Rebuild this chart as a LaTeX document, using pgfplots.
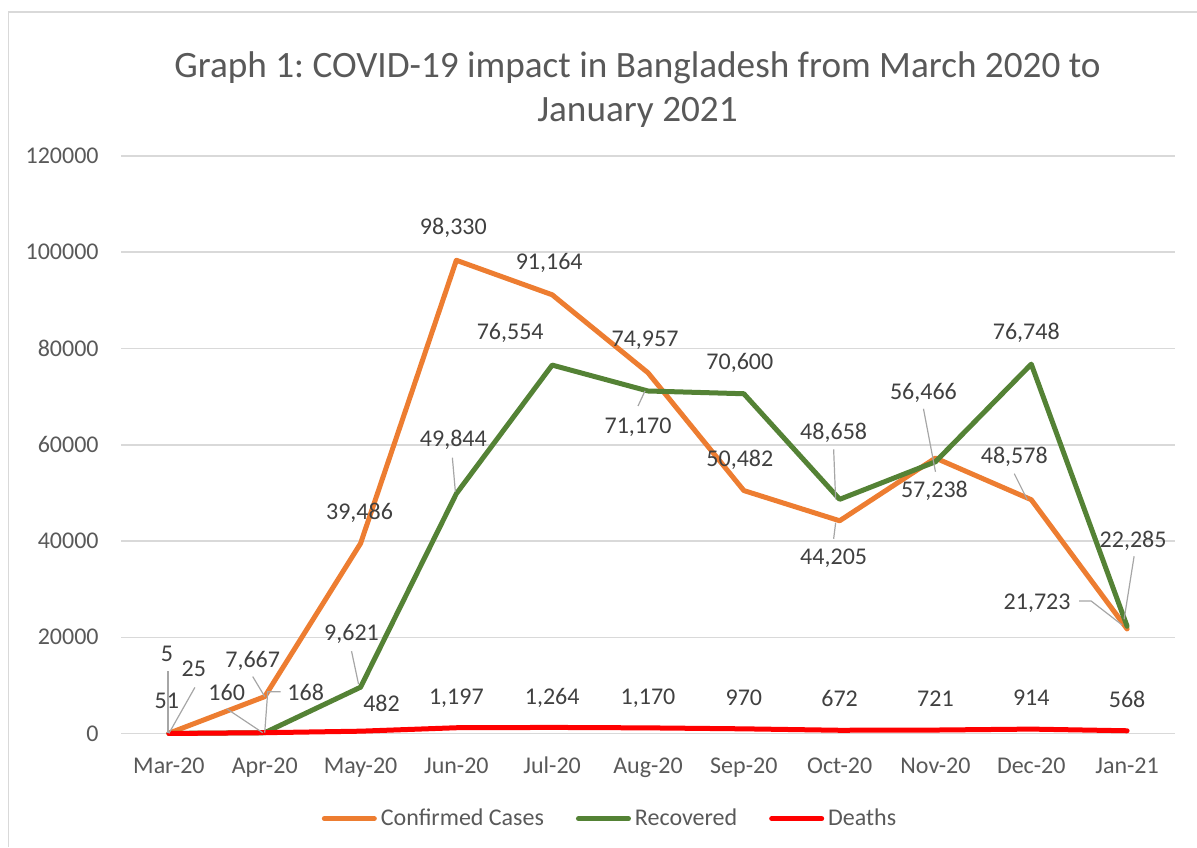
\documentclass[border=0pt]{standalone}
\usepackage{fontspec}
\setmainfont{Carlito}
\usepackage{pgfplots}
\pgfplotsset{compat=1.18}
\usetikzlibrary{calc}
\definecolor{conf}{HTML}{ED7D31}
\definecolor{reco}{HTML}{548235}
\definecolor{dead}{HTML}{FF0000}
\definecolor{gridc}{HTML}{D9D9D9}
\definecolor{labc}{HTML}{404040}
\definecolor{tickc}{HTML}{595959}
\definecolor{leadc}{HTML}{A6A6A6}
\frenchspacing
\tikzset{
  dlab/.style={font=\fontsize{12}{14}\selectfont, text=labc, inner sep=0pt, text height=7.6pt, text depth=0pt, anchor=center},
  leader/.style={leadc, line width=0.6pt},
}
\newcommand{\dl}[5]{\node[dlab] at ($(axis cs:#1,#2)+(#3pt,#4pt)$) {#5};}
\newcommand{\ld}[6]{\draw[leader] ($(axis cs:#1,#2)+(#3pt,#4pt)$) -- ($(axis cs:#1,#2)+(#5pt,#6pt)$);}
\newcommand{\ldd}[8]{\draw[leader] ($(axis cs:#1,#2)+(#3pt,#4pt)$) -- ($(axis cs:#1,#2)+(#5pt,#6pt)$) -- ($(axis cs:#1,#2)+(#7pt,#8pt)$);}
\begin{document}
\begin{tikzpicture}
\useasboundingbox (0,0) rectangle (598.5pt,423.5pt);
\draw[gridc, line width=0.75pt] (4.25pt,0) -- (4.25pt,417.5pt) -- (598.5pt,417.5pt);
\begin{axis}[
  at={(60.5pt,56.75pt)}, anchor=south west,
  scale only axis, width=527pt, height=288.75pt,
  xmin=-0.5, xmax=10.5, ymin=0, ymax=120000,
  xtick={0,...,10},
  xticklabels={Mar-20,Apr-20,May-20,Jun-20,Jul-20,Aug-20,Sep-20,Oct-20,Nov-20,Dec-20,Jan-21},
  ytick={0,20000,40000,60000,80000,100000,120000},
  yticklabels={0,20000,40000,60000,80000,100000,120000},
  scaled y ticks=false,
  ymajorgrids, grid style={gridc, line width=0.75pt},
  axis line style={draw=none}, tick style={draw=none},
  tick label style={font=\fontsize{12}{14}\selectfont, text=tickc},
  xticklabel style={anchor=base, yshift=-19.75pt, inner sep=0pt},
  yticklabel style={anchor=east, xshift=-11pt, inner sep=0pt},
  clip=false,
  legend columns=3,
  legend style={draw=none, fill=none, at={(0.4649,-0.1475)}, anchor=center,
    font=\fontsize{12}{14}\selectfont, text=tickc,
    /tikz/every even column/.append style={column sep=14pt}},
  legend image code/.code={\draw[#1, line cap=round] (1pt,0pt) -- (26pt,0pt);},
  every axis plot/.append style={line width=2.5pt, line join=round, line cap=round, mark=none},
]
\addplot[conf] coordinates {(0,51) (1,7667) (2,39486) (3,98330) (4,91164) (5,74957) (6,50482) (7,44205) (8,57238) (9,48578) (10,21723)};
\addlegendentry{Confirmed Cases}
\addplot[reco] coordinates {(0,25) (1,160) (2,9621) (3,49844) (4,76554) (5,71170) (6,70600) (7,48658) (8,56466) (9,76748) (10,22285)};
\addlegendentry{Recovered}
\addplot[dead] coordinates {(0,5) (1,168) (2,482) (3,1197) (4,1264) (5,1170) (6,970) (7,672) (8,721) (9,914) (10,568)};
\addlegendentry{Deaths}
% Confirmed labels
\dl{0}{51}{-1}{16}{51}
\dl{1}{7667}{-6}{18.5}{7,667} \ld{1}{7667}{-6}{10}{0}{0}
\dl{2}{39486}{-0.5}{16}{39,486}
\dl{3}{98330}{-1.5}{16.5}{98,330}
\dl{4}{91164}{-1.5}{16.5}{91,164}
\dl{5}{74957}{-1.5}{17}{74,957}
\dl{6}{50482}{-2}{16}{50,482}
\dl{7}{44205}{-3}{-18}{44,205} \ld{7}{44205}{-3}{-9}{-2}{-1}
\dl{8}{57238}{-0.5}{-16}{57,238}
\dl{9}{48578}{-8.5}{22}{48,578} \ld{9}{48578}{-8.5}{13}{-2}{0}
\dl{10}{21723}{-45}{13.5}{21,723} \ldd{10}{21723}{-24}{14}{-18}{14}{-2.5}{2}
% Recovered labels
\dl{0}{25}{12.5}{32}{25} \ld{0}{25}{13}{23}{0}{0}
\dl{1}{160}{-19}{20}{160} \ld{1}{160}{-19}{12}{-1}{0}
\dl{2}{9621}{-4.5}{27}{9,621} \ld{2}{9621}{-4.5}{18}{-1}{1.5}
\dl{3}{49844}{-1.5}{27.5}{49,844} \ld{3}{49844}{-2}{18}{-0.5}{1}
\dl{4}{76554}{-21}{16.5}{76,554}
\dl{5}{71170}{-5}{-17.5}{71,170} \ld{5}{71170}{-5}{-7.5}{-1.5}{0}
\dl{6}{70600}{-2}{16}{70,600}
\dl{7}{48658}{-3}{33.5}{48,658} \ld{7}{48658}{-3}{25}{-2}{0}
\dl{8}{56466}{-6}{35}{56,466} \ld{8}{56466}{-6}{26.5}{0}{-5}
\dl{9}{76748}{-2.5}{16}{76,748}
\dl{10}{22285}{3}{43}{22,285} \ld{10}{22285}{3.5}{35}{-1.5}{3.5}
% Deaths labels
\dl{0}{5}{-1}{40}{5} \ld{0}{5}{-0.5}{31}{-0.5}{0}
\dl{1}{168}{20.5}{20}{168} \ldd{1}{168}{8}{20.5}{1.5}{20.5}{0}{0}
\dl{2}{482}{10.5}{13.5}{482}
\dl{3}{1197}{0}{15.5}{1,197}
\dl{4}{1264}{0}{15.5}{1,264}
\dl{5}{1170}{0}{15.5}{1,170}
\dl{6}{970}{0}{15.5}{970}
\dl{7}{672}{0}{15.5}{672}
\dl{8}{721}{0}{15.5}{721}
\dl{9}{914}{0}{15.5}{914}
\dl{10}{568}{0}{15.5}{568}
\end{axis}
\node[font=\fontsize{18.6}{22}\selectfont, text=tickc, align=center] at (318.75pt,378.5pt) {Graph 1: COVID-19 impact in Bangladesh from March 2020 to\\January 2021};
\end{tikzpicture}
\end{document}
